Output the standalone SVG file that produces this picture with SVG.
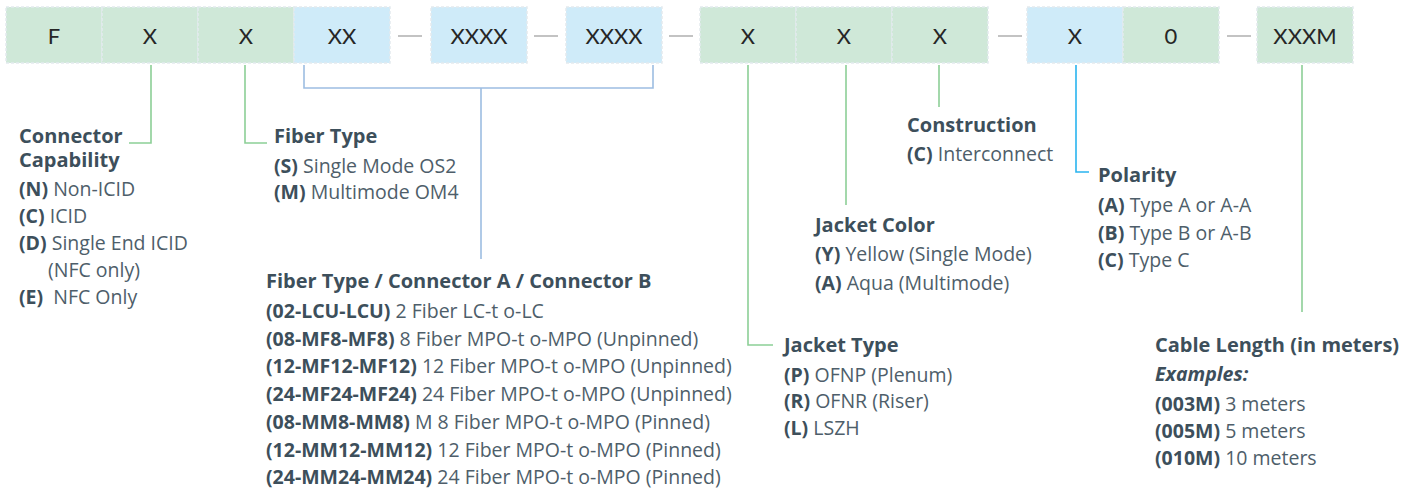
<svg xmlns="http://www.w3.org/2000/svg" width="1417" height="493" viewBox="0 0 1417 493">
<style>
.bg{fill:#cfe8d8;stroke:#e3eaee;stroke-width:1.5;stroke-dasharray:3 2}
.bb{fill:#cfebf9;stroke:#e3eaee;stroke-width:1.5;stroke-dasharray:3 2}
.code{font-family:Lato,"Open Sans",sans-serif;font-size:22px;fill:#262626;text-anchor:middle}
.sep{stroke:#9a9a9a;stroke-width:1.2}
.cg{stroke:#8ccf96;fill:none;stroke-width:1.6}
.cb{stroke:#9dbde2;fill:none;stroke-width:1.6}
.cc{stroke:#2ab4ef;fill:none;stroke-width:1.6}
.h{font-family:"Open Sans",sans-serif;font-weight:bold;font-size:20px;fill:#3d4f5b}
.t{font-family:"Open Sans",sans-serif;font-size:19.5px;fill:#4e5e6a}
.b{font-weight:bold;fill:#3d4f5b}
.i{font-weight:bold;font-style:italic;fill:#3d4f5b}
</style>
<g id="code">
<g id="box-f"><rect class="bg" x="6" y="7" width="96" height="56"/><text class="code" x="54" y="44">F</text></g>
<g id="box-x1"><rect class="bg" x="102" y="7" width="96" height="56"/><text class="code" x="150" y="44">X</text></g>
<g id="box-x2"><rect class="bg" x="198" y="7" width="96" height="56"/><text class="code" x="246" y="44">X</text></g>
<g id="box-xx"><rect class="bb" x="294" y="7" width="96" height="56"/><text class="code" x="342" y="44">XX</text></g>
<line class="sep" x1="398" y1="36" x2="422" y2="36"/>
<g id="box-xxxx1"><rect class="bb" x="431" y="7" width="96" height="56"/><text class="code" x="479" y="44">XXXX</text></g>
<line class="sep" x1="534" y1="36" x2="558" y2="36"/>
<g id="box-xxxx2"><rect class="bb" x="566" y="7" width="96" height="56"/><text class="code" x="614" y="44">XXXX</text></g>
<line class="sep" x1="669" y1="36" x2="693" y2="36"/>
<g id="box-x3"><rect class="bg" x="700" y="7" width="96" height="56"/><text class="code" x="748" y="44">X</text></g>
<g id="box-x4"><rect class="bg" x="796" y="7" width="96" height="56"/><text class="code" x="844" y="44">X</text></g>
<g id="box-x5"><rect class="bg" x="892" y="7" width="96" height="56"/><text class="code" x="940" y="44">X</text></g>
<line class="sep" x1="998" y1="36" x2="1022" y2="36"/>
<g id="box-x6"><rect class="bb" x="1027" y="7" width="96" height="56"/><text class="code" x="1075" y="44">X</text></g>
<g id="box-0"><rect class="bg" x="1123" y="7" width="96" height="56"/><text class="code" x="1171" y="44">0</text></g>
<line class="sep" x1="1227" y1="36" x2="1251" y2="36"/>
<g id="box-xxxm"><rect class="bg" x="1257" y="7" width="96" height="56"/><text class="code" x="1305" y="44">XXXM</text></g>
</g>
<g id="connectors">
<path class="cg" d="M151 65 V143 H129"/>
<path class="cg" d="M245 65 V143 H267"/>
<path class="cb" d="M304 65 V88 H653 V65 M481 88 V259"/>
<path class="cg" d="M748 65 V345 H773"/>
<path class="cg" d="M846 65 V205"/>
<path class="cg" d="M939 65 V107"/>
<path class="cc" d="M1076 65 V172 H1089"/>
<path class="cg" d="M1302 65 V312"/>
</g>
<g id="connector-capability">
<text class="h" x="19" y="143">Connector<tspan x="19" dy="24">Capability</tspan></text>
<text class="t" x="19" y="196"><tspan class="b">(N)</tspan> Non-ICID</text>
<text class="t" x="19" y="223"><tspan class="b">(C)</tspan> ICID</text>
<text class="t" x="19" y="250"><tspan class="b">(D)</tspan> Single End ICID</text>
<text class="t" x="48" y="277">(NFC only)</text>
<text class="t" x="19" y="304" xml:space="preserve"><tspan class="b">(E)</tspan>  NFC Only</text>
</g>
<g id="fiber-type">
<text class="h" x="274" y="143">Fiber Type</text>
<text class="t" x="274" y="173"><tspan class="b">(S)</tspan> Single Mode OS2</text>
<text class="t" x="274" y="199"><tspan class="b">(M)</tspan> Multimode OM4</text>
</g>
<g id="fiber-connector">
<text class="h" x="266" y="288">Fiber Type / Connector A / Connector B</text>
<text class="t" x="266" y="318"><tspan class="b">(02-LCU-LCU)</tspan> 2 Fiber LC-t o-LC</text>
<text class="t" x="266" y="346"><tspan class="b">(08-MF8-MF8)</tspan> 8 Fiber MPO-t o-MPO (Unpinned)</text>
<text class="t" x="266" y="373"><tspan class="b">(12-MF12-MF12)</tspan> 12 Fiber MPO-t o-MPO (Unpinned)</text>
<text class="t" x="266" y="401"><tspan class="b">(24-MF24-MF24)</tspan> 24 Fiber MPO-t o-MPO (Unpinned)</text>
<text class="t" x="266" y="429"><tspan class="b">(08-MM8-MM8)</tspan> M 8 Fiber MPO-t o-MPO (Pinned)</text>
<text class="t" x="266" y="457"><tspan class="b">(12-MM12-MM12)</tspan> 12 Fiber MPO-t o-MPO (Pinned)</text>
<text class="t" x="266" y="484"><tspan class="b">(24-MM24-MM24)</tspan> 24 Fiber MPO-t o-MPO (Pinned)</text>
</g>
<g id="jacket-type">
<text class="h" x="784" y="352">Jacket Type</text>
<text class="t" x="784" y="382"><tspan class="b">(P)</tspan> OFNP (Plenum)</text>
<text class="t" x="784" y="408"><tspan class="b">(R)</tspan> OFNR (Riser)</text>
<text class="t" x="784" y="435"><tspan class="b">(L)</tspan> LSZH</text>
</g>
<g id="jacket-color">
<text class="h" x="815" y="232">Jacket Color</text>
<text class="t" x="815" y="261"><tspan class="b">(Y)</tspan> Yellow (Single Mode)</text>
<text class="t" x="815" y="290"><tspan class="b">(A)</tspan> Aqua (Multimode)</text>
</g>
<g id="construction">
<text class="h" x="907" y="132">Construction</text>
<text class="t" x="907" y="161"><tspan class="b">(C)</tspan> Interconnect</text>
</g>
<g id="polarity">
<text class="h" x="1098" y="182">Polarity</text>
<text class="t" x="1098" y="212"><tspan class="b">(A)</tspan> Type A or A-A</text>
<text class="t" x="1098" y="240"><tspan class="b">(B)</tspan> Type B or A-B</text>
<text class="t" x="1098" y="267"><tspan class="b">(C)</tspan> Type C</text>
</g>
<g id="cable-length">
<text class="h" x="1155" y="352">Cable Length (in meters)</text>
<text class="t" x="1155" y="381"><tspan class="i">Examples:</tspan></text>
<text class="t" x="1155" y="411"><tspan class="b">(003M)</tspan> 3 meters</text>
<text class="t" x="1155" y="438"><tspan class="b">(005M)</tspan> 5 meters</text>
<text class="t" x="1155" y="465"><tspan class="b">(010M)</tspan> 10 meters</text>
</g>
</svg>
